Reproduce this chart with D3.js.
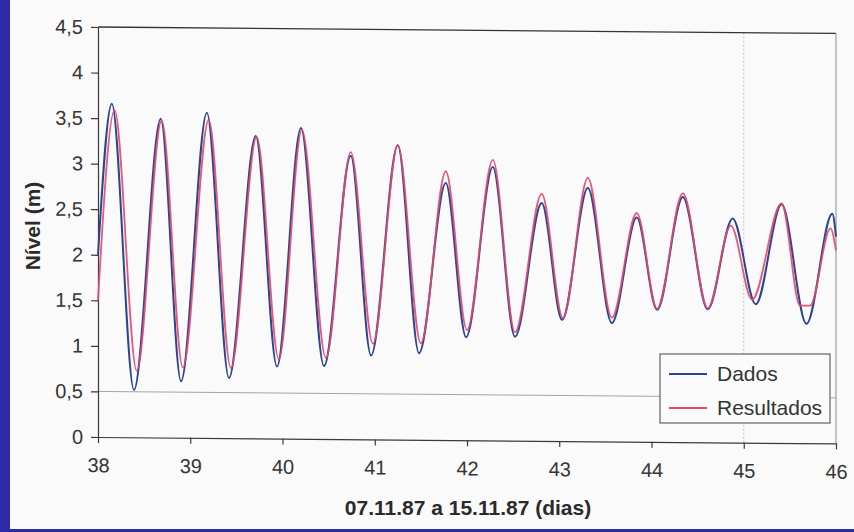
<!DOCTYPE html>
<html>
<head>
<meta charset="utf-8">
<script src="https://cdn.jsdelivr.net/npm/d3@7"></script>
<style>
  html, body { margin: 0; padding: 0; background: #2d2ca6; }
  svg { display: block; }
  text { font-family: "Liberation Sans", Arial, sans-serif; }
  .axis text { font-size: 20px; fill: #353535; }
  .axis path, .axis line { stroke: #3a3a3a; stroke-width: 1.2; }
</style>
</head>
<body>
<svg id="chart"></svg>
<script>
const dadosDias = [38.0, 38.15, 38.39, 38.68, 38.9, 39.18, 39.42, 39.71, 39.94, 40.2, 40.45,
  40.74, 40.96, 41.25, 41.48, 41.77, 41.99, 42.28, 42.52, 42.81, 43.03, 43.31, 43.57,
  43.84, 44.06, 44.34, 44.61, 44.88, 45.13, 45.41, 45.68, 45.96, 46.0];
const dadosNivel = [2.0, 3.66, 0.52, 3.5, 0.62, 3.57, 0.66, 3.32, 0.79, 3.41, 0.8,
  3.11, 0.92, 3.23, 0.95, 2.82, 1.13, 3.0, 1.14, 2.61, 1.33, 2.78, 1.3,
  2.46, 1.45, 2.69, 1.46, 2.46, 1.52, 2.62, 1.31, 2.52, 2.27];

// Resultados (model)
const resultadosDias = [38.0, 38.18, 38.42, 38.69, 38.92, 39.2, 39.44, 39.72, 39.96, 40.21, 40.47,
  40.74, 40.98, 41.25, 41.5, 41.77, 42.0, 42.28, 42.52, 42.81, 43.04, 43.31, 43.57,
  43.84, 44.06, 44.34, 44.61, 44.86, 45.09, 45.41, 45.61, 45.72, 45.94, 46.0];
const resultadosNivel = [1.5, 3.59, 0.73, 3.48, 0.77, 3.49, 0.77, 3.31, 0.87, 3.39, 0.89,
  3.15, 1.05, 3.23, 1.06, 2.95, 1.21, 3.08, 1.19, 2.71, 1.35, 2.89, 1.36,
  2.51, 1.46, 2.73, 1.47, 2.38, 1.57, 2.63, 1.51, 1.51, 2.36, 2.12];

const xTicks = [38, 39, 40, 41, 42, 43, 44, 45, 46];
const yTicks = [0, 0.5, 1, 1.5, 2, 2.5, 3, 3.5, 4, 4.5];
const seriesNames = ["Dados", "Resultados"];

const W = 854, H = 532;
const plot = { left: 98, right: 836, top: 27, bottom: 437 };

const svg = d3.select("#chart").attr("width", W).attr("height", H);

// scanned page area
svg.append("rect")
  .attr("x", 10).attr("y", 0)
  .attr("width", W - 10).attr("height", 529)
  .attr("fill", "#fafafb");

const x = d3.scaleLinear().domain([38, 46]).range([plot.left, plot.right]);
const y = d3.scaleLinear().domain([0, 4.5]).range([plot.bottom, plot.top]);

const color = d3.scaleOrdinal().domain(seriesNames).range(["#2c4590", "#e2486c"]);

const locale = d3.formatLocale({ decimal: ",", thousands: ".", grouping: [3], currency: ["", ""] });
const yFormat = locale.format(".1~f");

// the scan is slightly tilted: right side sits a few px lower
const g = svg.append("g")
  .attr("transform", "translate(" + plot.left + ",0) skewY(0.5) translate(" + (-plot.left) + ",0)");

// faint lines (0,5 gridline and a vertical at day 45)
g.append("line")
  .attr("x1", x(38)).attr("x2", x(46))
  .attr("y1", y(0.5)).attr("y2", y(0.5))
  .attr("stroke", "#9a9a9a").attr("stroke-width", 0.9);

g.append("line")
  .attr("x1", x(45)).attr("x2", x(45))
  .attr("y1", y(4.5)).attr("y2", y(0))
  .attr("stroke", "#b0b0b0").attr("stroke-width", 0.8)
  .attr("stroke-dasharray", "2,2");

// frame
g.append("line")
  .attr("x1", x(38)).attr("x2", x(46))
  .attr("y1", y(4.5)).attr("y2", y(4.5))
  .attr("stroke", "#333").attr("stroke-width", 1.3);

g.append("line")
  .attr("x1", x(46)).attr("x2", x(46))
  .attr("y1", y(4.5)).attr("y2", y(0))
  .attr("stroke", "#8a8a8a").attr("stroke-width", 1);

const xAxis = d3.axisBottom(x).tickValues(xTicks).tickSize(6).tickSizeOuter(0).tickPadding(15);
const yAxis = d3.axisLeft(y).tickValues(yTicks).tickFormat(yFormat).tickSize(7).tickSizeOuter(0).tickPadding(8);

g.append("g")
  .attr("class", "x axis")
  .attr("transform", "translate(0," + plot.bottom + ")")
  .call(xAxis);

g.append("g")
  .attr("class", "y axis")
  .attr("transform", "translate(" + plot.left + ",0)")
  .call(yAxis);

const line = d3.line()
  .x(function (d) { return x(d.dia); })
  .y(function (d) { return y(d.nivel); })
  .curve(d3.curveMonotoneX);

const dados = dadosDias.map(function (d, i) { return { dia: d, nivel: dadosNivel[i] }; });
const resultados = resultadosDias.map(function (d, i) { return { dia: d, nivel: resultadosNivel[i] }; });

g.append("path")
  .datum(dados)
  .attr("fill", "none")
  .attr("stroke", color("Dados"))
  .attr("stroke-width", 2)
  .attr("d", line);

g.append("path")
  .datum(resultados)
  .attr("fill", "none")
  .attr("stroke", color("Resultados"))
  .attr("stroke-width", 1.8)
  .attr("stroke-opacity", 0.9)
  .attr("d", line);

// axis titles
svg.append("text")
  .attr("x", 468)
  .attr("y", 515)
  .attr("text-anchor", "middle")
  .style("font-size", "21px")
  .style("font-weight", "bold")
  .style("fill", "#2a2a2a")
  .text("07.11.87 a 15.11.87 (dias)");

svg.append("text")
  .attr("transform", "translate(40,226) rotate(-90)")
  .attr("text-anchor", "middle")
  .style("font-size", "21px")
  .style("font-weight", "bold")
  .style("fill", "#2a2a2a")
  .text("Nível (m)");

// legend
const legend = svg.append("g").attr("class", "legend");

legend.append("rect")
  .attr("x", 660).attr("y", 354)
  .attr("width", 170).attr("height", 69)
  .attr("fill", "#fbfbfb")
  .attr("stroke", "#555").attr("stroke-width", 1.1);

const legendItem = legend.selectAll(".legend-item")
  .data(seriesNames)
  .enter()
  .append("g")
  .attr("class", "legend-item")
  .attr("transform", function (d, i) { return "translate(669," + (374 + i * 34) + ")"; });

legendItem.append("line")
  .attr("x1", 0).attr("x2", 38)
  .attr("y1", 0).attr("y2", 0)
  .attr("stroke", color)
  .attr("stroke-width", 2);

legendItem.append("text")
  .attr("x", 48)
  .attr("y", 0)
  .attr("dy", "0.35em")
  .style("font-size", "21px")
  .style("fill", "#333")
  .text(function (d) { return d; });
</script>
</body>
</html>
